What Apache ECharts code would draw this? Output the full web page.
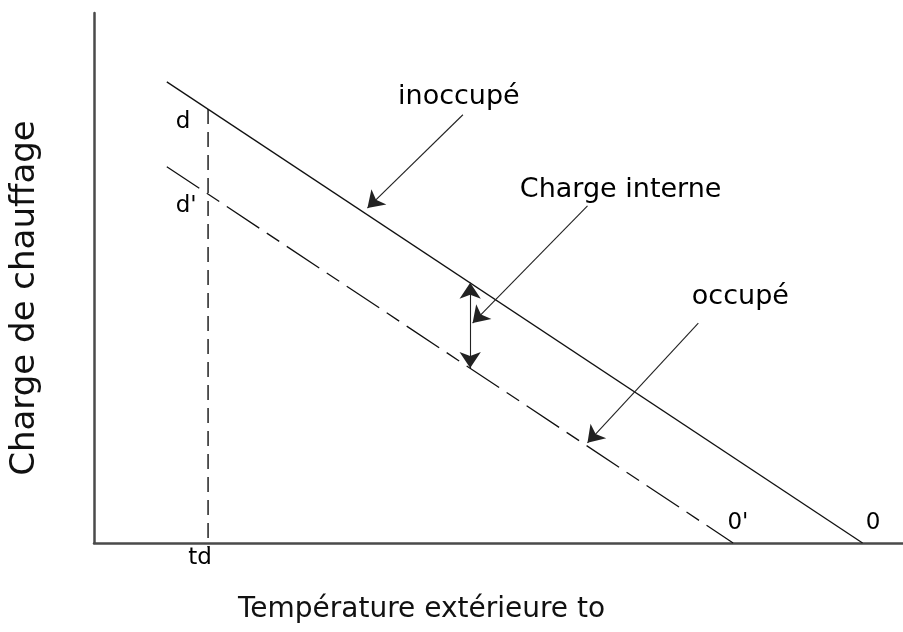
<!DOCTYPE html>
<html>
<head>
<meta charset="utf-8">
<script src="https://cdn.jsdelivr.net/npm/echarts@6/dist/echarts.min.js"></script>
<style>
html,body{margin:0;padding:0;background:#fff;}
#chart{width:903px;height:632px;}
</style>
</head>
<body>
<div id="chart"></div>
<script>
// ---- data (axis units: x = outdoor temperature, y = heating load, 0..100 schematic) ----
const inoccupe = [[9, 87], [95, 0]];          // unoccupied load line d -> 0
const occupe = [[9, 71], [79, 0]];            // occupied load line d' -> 0'
const tdLine = [[14.1, 81.9], [14.1, -0.8]];  // design temperature td
const arrowInoccupe = [[45.6, 80.8], [33.8, 63.2]];
const arrowCharge = [[61.0, 63.6], [46.8, 41.5]];
const arrowOccupe = [[74.7, 41.5], [61.0, 18.9]];
const internalLoad = [[46.5, 49.1], [46.5, 33.0]];
const labelTexts = ['d', "d'", 'td', "0'", '0'];
const labelPoints = [[11.0, 79.4], [11.4, 63.6], [13.1, -2.9], [79.6, 3.8], [96.3, 3.8]];
const noteTexts = ['inoccupé', 'Charge interne', 'occupé'];
const notePoints = [[45.1, 84.2], [65.1, 66.6], [79.9, 46.4]];
const xTitle = 'Température extérieure to';
const yTitle = 'Charge de chauffage';

const FONT = '"DejaVu Sans", Verdana, sans-serif';
const chart = echarts.init(document.getElementById('chart'), null, {renderer: 'canvas'});

function seg(p, symbols) {
  return [
    {coord: p[0], symbol: symbols[0], symbolSize: 16},
    {coord: p[1], symbol: symbols[1], symbolSize: 16}
  ];
}

chart.setOption({
  animation: false,
  backgroundColor: '#fff',
  grid: {left: 93, right: 0, top: 13, bottom: 89},
  xAxis: {
    type: 'value', min: 0, max: 100,
    axisLine: {show: true, lineStyle: {color: '#4a4a4a', width: 2.5}},
    axisTick: {show: false}, axisLabel: {show: false}, splitLine: {show: false},
    name: xTitle, nameLocation: 'middle', nameGap: 53,
    nameTextStyle: {fontFamily: FONT, fontSize: 28, color: '#111', padding: [0, 154, 0, 0]}
  },
  yAxis: {
    type: 'value', min: 0, max: 100,
    axisLine: {show: true, lineStyle: {color: '#4a4a4a', width: 2.5}},
    axisTick: {show: false}, axisLabel: {show: false}, splitLine: {show: false},
    name: yTitle, nameLocation: 'middle', nameGap: 52,
    nameTextStyle: {fontFamily: FONT, fontSize: 34, color: '#111', padding: [0, 40, 0, 0]}
  },
  series: [
    {
      name: 'inoccupé', type: 'line', data: inoccupe, symbol: 'none', silent: true,
      lineStyle: {color: '#111', width: 1.3}
    },
    {
      name: 'occupé', type: 'line', data: occupe, symbol: 'none', silent: true,
      lineStyle: {color: '#111', width: 1.3, type: [39, 9, 15, 9]}
    },
    {
      name: 'td', type: 'line', data: tdLine, symbol: 'none', silent: true, clip: false,
      lineStyle: {color: '#111', width: 1.4, type: [15, 8]},
      markLine: {
        silent: true, animation: false,
        label: {show: false},
        lineStyle: {color: '#222', width: 1.1, type: 'solid'},
        itemStyle: {color: '#000'},
        data: [
          seg(arrowInoccupe, ['none', 'arrow']),
          seg(arrowCharge, ['none', 'arrow']),
          seg(arrowOccupe, ['none', 'arrow']),
          seg(internalLoad, ['arrow', 'arrow'])
        ]
      }
    },
    {
      name: 'labels', type: 'scatter', symbolSize: 0, silent: true, clip: false,
      itemStyle: {opacity: 1},
      data: labelPoints.map((p, i) => ({value: p, name: labelTexts[i]})),
      label: {show: true, position: 'inside', formatter: (d) => d.name,
        fontFamily: FONT, fontSize: 23, color: '#000'}
    },
    {
      name: 'notes', type: 'scatter', symbolSize: 0, silent: true, clip: false,
      itemStyle: {opacity: 1},
      data: notePoints.map((p, i) => ({value: p, name: noteTexts[i]})),
      label: {show: true, position: 'inside', formatter: (d) => d.name,
        fontFamily: FONT, fontSize: 27, color: '#000'}
    }
  ]
});
</script>
</body>
</html>
